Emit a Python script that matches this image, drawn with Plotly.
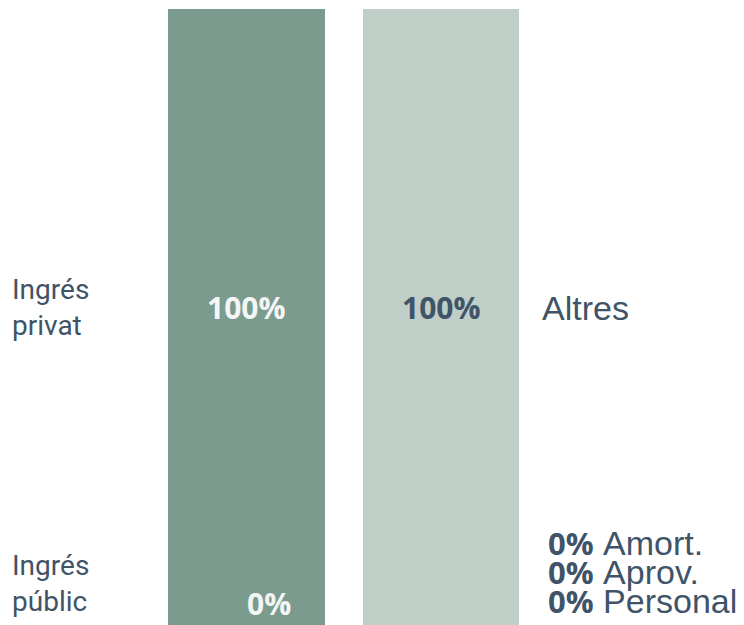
import plotly.graph_objects as go

# ---- data ----
left_categories = ["Ingrés públic", "Ingrés privat"]
left_labels = ["Ingrés<br>públic", "Ingrés<br>privat"]
left_values = [0, 100]

right_categories = ["Personal", "Aprov.", "Amort.", "Altres"]
right_values = [0, 0, 0, 100]

bar_positions = [0, 1]

# ---- style ----
LEFT_COLOR = "#7b9b8f"
RIGHT_COLOR = "#bfcec7"
TEXT_COLOR = "#3f5468"
LABEL_FONT = "Roboto"
VALUE_FONT = "Open Sans"
RIGHT_FONT = "Liberation Sans"

# the page body adds an 8px margin, so the figure is 8px smaller
W, H = 736, 617

fig = go.Figure()

for cat, val in zip(left_categories, left_values):
    fig.add_trace(go.Bar(x=[bar_positions[0]], y=[val], name=cat,
                         marker=dict(color=LEFT_COLOR, line=dict(width=0)),
                         width=0.807, hoverinfo="skip", showlegend=False))
for cat, val in zip(right_categories, right_values):
    fig.add_trace(go.Bar(x=[bar_positions[1]], y=[val], name=cat,
                         marker=dict(color=RIGHT_COLOR, line=dict(width=0)),
                         width=0.807, hoverinfo="skip", showlegend=False))

annotations = []

# left stack labels
cum = 0
for lab, val in zip(left_labels, left_values):
    if val > 0:
        ymid = cum + val / 2
        annotations.append(dict(x=bar_positions[0], y=ymid, xref="x", yref="y",
                                text=f"<b>{val}%</b>", showarrow=False,
                                font=dict(family=VALUE_FONT, size=30, color="#f4f6f5"),
                                yshift=10))
        annotations.append(dict(x=2 / W, y=ymid, xref="paper", yref="y",
                                text=lab, showarrow=False, xanchor="left", align="left",
                                font=dict(family=LABEL_FONT, size=28, color=TEXT_COLOR),
                                yshift=10))
    else:
        ymid = cum
        annotations.append(dict(x=bar_positions[0], y=ymid, xref="x", yref="y",
                                text=f"<b>{val}%</b>", showarrow=False,
                                font=dict(family=VALUE_FONT, size=30, color="#f4f6f5"),
                                yshift=22, xshift=22))
        annotations.append(dict(x=2 / W, y=ymid, xref="paper", yref="y",
                                text=lab, showarrow=False, xanchor="left", align="left",
                                font=dict(family=LABEL_FONT, size=28, color=TEXT_COLOR),
                                yshift=42))
    cum += val

# right stack labels
cum = 0
zero_idx = 0
for cat, val in zip(right_categories, right_values):
    if val > 0:
        ymid = cum + val / 2
        annotations.append(dict(x=bar_positions[1], y=ymid, xref="x", yref="y",
                                text=f"<b>{val}%</b>", showarrow=False,
                                font=dict(family=VALUE_FONT, size=30, color=TEXT_COLOR),
                                yshift=10))
        annotations.append(dict(x=532 / W, y=ymid, xref="paper", yref="y",
                                text=cat, showarrow=False, xanchor="left",
                                font=dict(family=RIGHT_FONT, size=34, color=TEXT_COLOR),
                                yshift=9))
    else:
        annotations.append(dict(x=538 / W, y=cum, xref="paper", yref="y",
                                text=(f"<b style='font-family:{VALUE_FONT};font-size:31px'>"
                                      f"{val}%</b>\u00a0{cat}"),
                                showarrow=False, xanchor="left",
                                font=dict(family=RIGHT_FONT, size=34, color=TEXT_COLOR),
                                yshift=24 + zero_idx * 29))
        zero_idx += 1
    cum += val

px_per_unit = 194.5
x_min = -238.5 / px_per_unit
x_max = x_min + W / px_per_unit

fig.update_layout(
    width=W, height=H,
    margin=dict(l=0, r=0, t=1, b=0, pad=0),
    barmode="stack", bargap=0,
    plot_bgcolor="white", paper_bgcolor="white",
    xaxis=dict(range=[x_min, x_max], visible=False, fixedrange=True),
    yaxis=dict(range=[0, 100], visible=False, fixedrange=True),
    annotations=annotations,
    shapes=[dict(type="line", xref="paper", yref="paper",
                 x0=729 / W, x1=734 / W, y0=1 - 98 / H, y1=1 - 98 / H,
                 line=dict(color="#333333", width=1.5))],
    showlegend=False,
)

fig.write_html("out.html", config={"displayModeBar": False})
